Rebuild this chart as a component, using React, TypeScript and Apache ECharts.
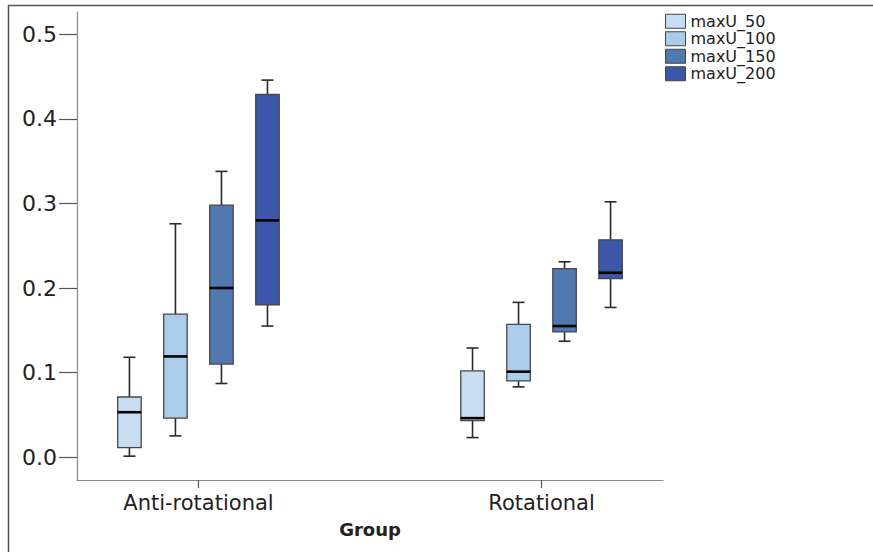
import React, { useEffect, useRef } from 'react';
import * as echarts from 'echarts';

const groups = ['Anti-rotational', 'Rotational'];
const groupPositions = [1, 2];
const seriesNames = ['maxU_50', 'maxU_100', 'maxU_150', 'maxU_200'];
const seriesColors = ['#c6ddf3', '#abcdeb', '#5278b0', '#3c56a9'];
// each entry: [min, Q1, median, Q3, max] for Anti-rotational, then Rotational
const maxU50 = [
  [0.001, 0.011, 0.053, 0.071, 0.118],
  [0.023, 0.043, 0.046, 0.102, 0.129],
];
const maxU100 = [
  [0.025, 0.046, 0.119, 0.169, 0.276],
  [0.083, 0.09, 0.101, 0.157, 0.183],
];
const maxU150 = [
  [0.087, 0.11, 0.2, 0.298, 0.338],
  [0.137, 0.148, 0.155, 0.223, 0.231],
];
const maxU200 = [
  [0.155, 0.18, 0.28, 0.429, 0.446],
  [0.177, 0.211, 0.218, 0.257, 0.302],
];
const seriesStats = [maxU50, maxU100, maxU150, maxU200];
const yTicks = [0, 0.1, 0.2, 0.3, 0.4, 0.5];

const FONT = 'DejaVu Sans';

export default function App() {
  const ref = useRef<HTMLDivElement>(null);

  useEffect(() => {
    if (!ref.current) return;
    const chart = echarts.init(ref.current, null, { renderer: 'svg' });

    const SPACING = 46 / 343; // distance between boxes, in group units
    const BOX_W = 23.5 / 343;
    const CAP_W = 12 / 343;

    const makeRender = (sIdx: number) => (params: any, api: any) => {
      const x = api.value(0);
      const v = [1, 2, 3, 4, 5].map((i) => api.value(i));
      const unit = api.size([1, 0])[0];
      const cx = api.coord([x, 0])[0] + (sIdx - 1.5) * unit * SPACING;
      const bw = unit * BOX_W;
      const cw = unit * CAP_W;
      const y = v.map((val: number) => api.coord([x, val])[1]);
      const whiskerStyle = { stroke: '#2a2a2a', lineWidth: 1.6 };
      return {
        type: 'group',
        children: [
          { type: 'line', shape: { x1: cx, y1: y[0], x2: cx, y2: y[1] }, style: whiskerStyle },
          { type: 'line', shape: { x1: cx, y1: y[3], x2: cx, y2: y[4] }, style: whiskerStyle },
          { type: 'line', shape: { x1: cx - cw / 2, y1: y[0], x2: cx + cw / 2, y2: y[0] }, style: whiskerStyle },
          { type: 'line', shape: { x1: cx - cw / 2, y1: y[4], x2: cx + cw / 2, y2: y[4] }, style: whiskerStyle },
          {
            type: 'rect',
            shape: { x: cx - bw / 2, y: y[3], width: bw, height: y[1] - y[3] },
            style: { fill: seriesColors[sIdx], stroke: '#474747', lineWidth: 1.3 },
          },
          {
            type: 'line',
            shape: { x1: cx - bw / 2, y1: y[2], x2: cx + bw / 2, y2: y[2] },
            style: { stroke: '#000', lineWidth: 2.6 },
          },
        ],
      };
    };

    const series = seriesNames.map((name, sIdx) => ({
      name,
      type: 'custom',
      renderItem: makeRender(sIdx),
      itemStyle: { color: seriesColors[sIdx] },
      encode: { x: 0, y: [1, 2, 3, 4, 5] },
      clip: false,
      data: groupPositions.map((p, gi) => [p, ...seriesStats[sIdx][gi]]),
    }));

    chart.setOption({
      animation: false,
      backgroundColor: '#ffffff',
      grid: { left: 77, right: 210, top: 12, bottom: 72, containLabel: false },
      legend: {
        orient: 'vertical',
        left: 665,
        top: 12.5,
        padding: 0,
        itemGap: 0,
        itemWidth: 20,
        itemHeight: 14,
        icon: 'rect',
        selectedMode: false,
        textStyle: { fontFamily: FONT, fontSize: 16, color: '#222', lineHeight: 17.5 },
        data: seriesNames.map((n, i) => ({
          name: n,
          itemStyle: { color: seriesColors[i], borderColor: '#444', borderWidth: 1 },
        })),
      },
      xAxis: {
        type: 'value',
        min: 0.646,
        max: 2.354,
        name: 'Group',
        nameLocation: 'middle',
        nameGap: 40,
        nameTextStyle: { fontFamily: FONT, fontSize: 18, fontWeight: 'bold', color: '#222' },
        splitLine: { show: false },
        axisLine: { onZero: false, lineStyle: { color: '#8a8a8a', width: 1.2 } },
        axisTick: { show: true, length: 8, customValues: groupPositions, lineStyle: { color: '#555', width: 1.2 } },
        axisLabel: {
          customValues: groupPositions,
          formatter: (v: number) => groups[Math.round(v) - 1] ?? '',
          margin: 12,
          fontFamily: FONT,
          fontSize: 21,
          color: '#222',
        },
      },
      yAxis: {
        type: 'value',
        min: -0.0272,
        max: 0.5266,
        splitLine: { show: false },
        axisLine: { show: true, onZero: false, lineStyle: { color: '#8a8a8a', width: 1.2 } },
        axisTick: { show: true, length: 18, customValues: yTicks, lineStyle: { color: '#555', width: 1.2 } },
        axisLabel: {
          customValues: yTicks,
          formatter: (v: number) => v.toFixed(1),
          margin: 20,
          fontFamily: FONT,
          fontSize: 22,
          color: '#222',
        },
      },
      graphic: [
        {
          type: 'polyline',
          shape: { points: [[8.5, 552], [8.5, 5.5], [873, 5.5]] },
          style: { stroke: '#555', lineWidth: 1.5, fill: 'none' },
        },
      ],
      series,
    });

    return () => chart.dispose();
  }, []);

  return (
    <div
      ref={ref}
      style={{ position: 'absolute', left: 0, top: 0, width: 873, height: 552 }}
    />
  );
}
